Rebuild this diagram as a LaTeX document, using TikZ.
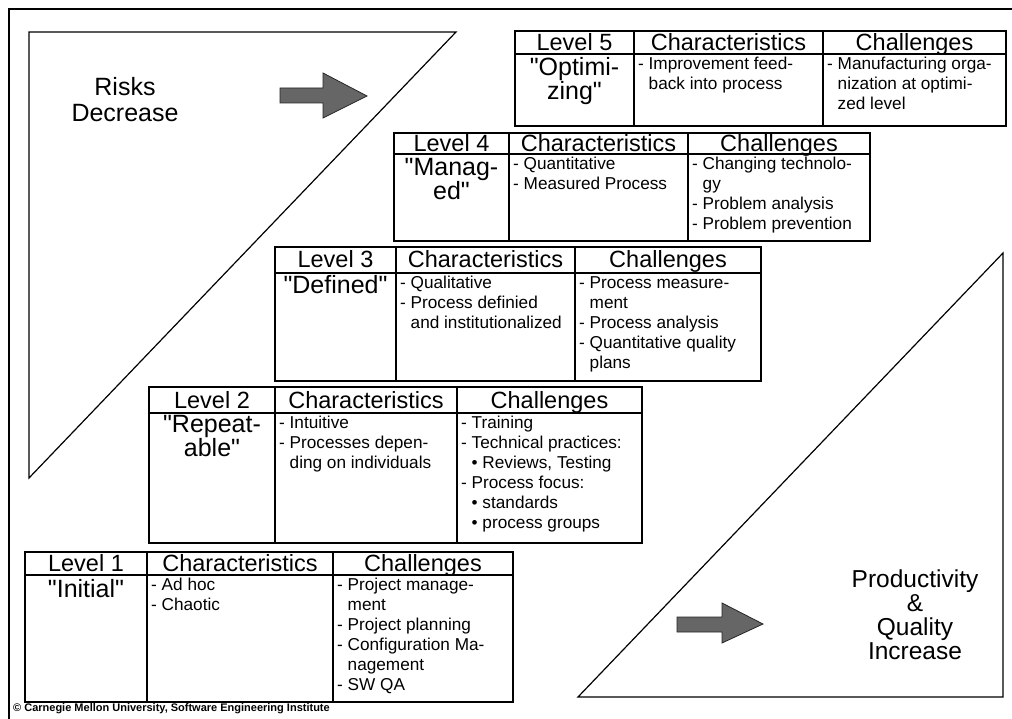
\documentclass[tikz,border=0pt]{standalone}
\usepackage{fontspec}
\setmainfont{Liberation Sans}[Ligatures=TeXOff]
\usetikzlibrary{positioning}
\usetikzlibrary{calc}

\begin{document}
\begin{tikzpicture} [x=1pt, y=-1pt,
    hdr/.style={draw, rectangle, line width=1.1pt, anchor=north west, inner sep=0pt, outer sep=0pt, text height=18.5pt, text depth=2.5pt, font=\fontsize{23.5}{23.5}\selectfont},
    cell/.style={draw, rectangle, line width=1.1pt, anchor=north west, inner sep=0pt, outer sep=0pt},
    lvlname/.style={anchor=north, align=center, inner sep=0pt, font=\fontsize{25}{21}\selectfont},
    itemtxt/.style={anchor=north west, align=left, inner sep=0pt, font=\fontsize{17.2}{20}\selectfont},
    bigtxt/.style={anchor=north, align=center, inner sep=0pt},
    tri/.style={line width=1.2pt, line join=miter},
    fatarrow/.style={draw=black!85, fill=black!60, line width=0.8pt}]
    % Capability maturity levels as a staircase of tables between two triangles
    \useasboundingbox (0, 0) rectangle (1012, 719);
    \draw[line width=1.1pt] (9, 719) -- (9, 9) -- (1012, 9);
    \draw[tri] (29, 32) -- (456, 32) -- (29, 478) -- cycle;
    \draw[tri] (1003, 253) -- (1003, 697) -- (578, 697) -- cycle;

    \draw[fatarrow] (280, 88) -- (323, 88) -- (323, 73) -- (367, 96) -- (323, 118) -- (323, 103) -- (280, 103) -- cycle;
    \draw[fatarrow] (677, 617) -- (722, 617) -- (722, 603) -- (763, 624) -- (722, 643) -- (722, 632) -- (677, 632) -- cycle;

    \node (risks) [bigtxt, font=\fontsize{25}{26}\selectfont] at (125, 77) {Risks\\Decrease};
    \node (prod) [bigtxt, font=\fontsize{24.5}{24}\selectfont] at (915, 570) {Productivity\\\&\\Quality\\Increase};

    % Level 5
    \node (L5h1) [hdr, minimum width=119pt, minimum height=23pt] at (515, 31) {Level 5};
    \node (L5h2) [hdr, minimum width=189pt, minimum height=23pt] at (L5h1.north east) {Characteristics};
    \node (L5h3) [hdr, minimum width=183pt, minimum height=23pt] at (L5h2.north east) {Challenges};
    \node (L5b1) [cell, minimum width=119pt, minimum height=72pt] at (L5h1.south west) {};
    \node (L5b2) [cell, minimum width=189pt, minimum height=72pt] at (L5h2.south west) {};
    \node (L5b3) [cell, minimum width=183pt, minimum height=72pt] at (L5h3.south west) {};
    \node (L5t1) [lvlname] at ($(L5b1.north) + (0, 3)$) {"Optimi-\\zing"};
    \node (L5t2) [itemtxt] at ($(L5b2.north west) + (4, 3)$) {- Improvement feed-\\\phantom{- }back into process};
    \node (L5t3) [itemtxt] at ($(L5b3.north west) + (4, 3)$) {- Manufacturing orga-\\\phantom{- }nization at optimi-\\\phantom{- }zed level};

    % Level 4
    \node (L4h1) [hdr, minimum width=115pt, minimum height=21pt] at (394, 133) {Level 4};
    \node (L4h2) [hdr, minimum width=179pt, minimum height=21pt] at (L4h1.north east) {Characteristics};
    \node (L4h3) [hdr, minimum width=182pt, minimum height=21pt] at (L4h2.north east) {Challenges};
    \node (L4b1) [cell, minimum width=115pt, minimum height=87pt] at (L4h1.south west) {};
    \node (L4b2) [cell, minimum width=179pt, minimum height=87pt] at (L4h2.south west) {};
    \node (L4b3) [cell, minimum width=182pt, minimum height=87pt] at (L4h3.south west) {};
    \node (L4t1) [lvlname] at ($(L4b1.north) + (0, 4)$) {"Manag-\\ed"};
    \node (L4t2) [itemtxt] at ($(L4b2.north west) + (4, 3)$) {- Quantitative\\- Measured Process};
    \node (L4t3) [itemtxt] at ($(L4b3.north west) + (4, 3)$) {- Changing technolo-\\\phantom{- }gy\\- Problem analysis\\- Problem prevention};

    % Level 3
    \node (L3h1) [hdr, minimum width=121pt, minimum height=26pt] at (275, 247) {Level 3};
    \node (L3h2) [hdr, minimum width=179pt, minimum height=26pt] at (L3h1.north east) {Characteristics};
    \node (L3h3) [hdr, minimum width=186pt, minimum height=26pt] at (L3h2.north east) {Challenges};
    \node (L3b1) [cell, minimum width=121pt, minimum height=108pt] at (L3h1.south west) {};
    \node (L3b2) [cell, minimum width=179pt, minimum height=108pt] at (L3h2.south west) {};
    \node (L3b3) [cell, minimum width=186pt, minimum height=108pt] at (L3h3.south west) {};
    \node (L3t1) [lvlname] at ($(L3b1.north) + (0, 2)$) {"Defined"};
    \node (L3t2) [itemtxt] at ($(L3b2.north west) + (4, 3)$) {- Qualitative\\- Process definied\\\phantom{- }and institutionalized};
    \node (L3t3) [itemtxt] at ($(L3b3.north west) + (4, 3)$) {- Process measure-\\\phantom{- }ment\\- Process analysis\\- Quantitative quality\\\phantom{- }plans};

    % Level 2
    \node (L2h1) [hdr, minimum width=126pt, minimum height=26pt] at (149, 387) {Level 2};
    \node (L2h2) [hdr, minimum width=182pt, minimum height=26pt] at (L2h1.north east) {Characteristics};
    \node (L2h3) [hdr, minimum width=185pt, minimum height=26pt] at (L2h2.north east) {Challenges};
    \node (L2b1) [cell, minimum width=126pt, minimum height=130pt] at (L2h1.south west) {};
    \node (L2b2) [cell, minimum width=182pt, minimum height=130pt] at (L2h2.south west) {};
    \node (L2b3) [cell, minimum width=185pt, minimum height=130pt] at (L2h3.south west) {};
    \node (L2t1) [lvlname] at ($(L2b1.north) + (0, 2)$) {"Repeat-\\able"};
    \node (L2t2) [itemtxt] at ($(L2b2.north west) + (4, 3)$) {- Intuitive\\- Processes depen-\\\phantom{- }ding on individuals};
    \node (L2t3) [itemtxt] at ($(L2b3.north west) + (4, 3)$) {- Training\\- Technical practices:\\\phantom{- }• Reviews, Testing\\- Process focus:\\\phantom{- }• standards\\\phantom{- }• process groups};

    % Level 1
    \node (L1h1) [hdr, minimum width=122pt, minimum height=23pt] at (25, 552) {Level 1};
    \node (L1h2) [hdr, minimum width=186pt, minimum height=23pt] at (L1h1.north east) {Characteristics};
    \node (L1h3) [hdr, minimum width=180pt, minimum height=23pt] at (L1h2.north east) {Challenges};
    \node (L1b1) [cell, minimum width=122pt, minimum height=127pt] at (L1h1.south west) {};
    \node (L1b2) [cell, minimum width=186pt, minimum height=127pt] at (L1h2.south west) {};
    \node (L1b3) [cell, minimum width=180pt, minimum height=127pt] at (L1h3.south west) {};
    \node (L1t1) [lvlname] at ($(L1b1.north) + (0, 4)$) {"Initial"};
    \node (L1t2) [itemtxt] at ($(L1b2.north west) + (4, 3)$) {- Ad hoc\\- Chaotic};
    \node (L1t3) [itemtxt] at ($(L1b3.north west) + (4, 3)$) {- Project manage-\\\phantom{- }ment\\- Project planning\\- Configuration Ma-\\\phantom{- }nagement\\- SW QA};

    \node (sei) [anchor=base west, inner sep=0pt, font=\fontsize{11}{11}\selectfont\bfseries] at (13, 711) {© Carnegie Mellon University, Software Engineering Institute};
\end{tikzpicture}
\end{document}
